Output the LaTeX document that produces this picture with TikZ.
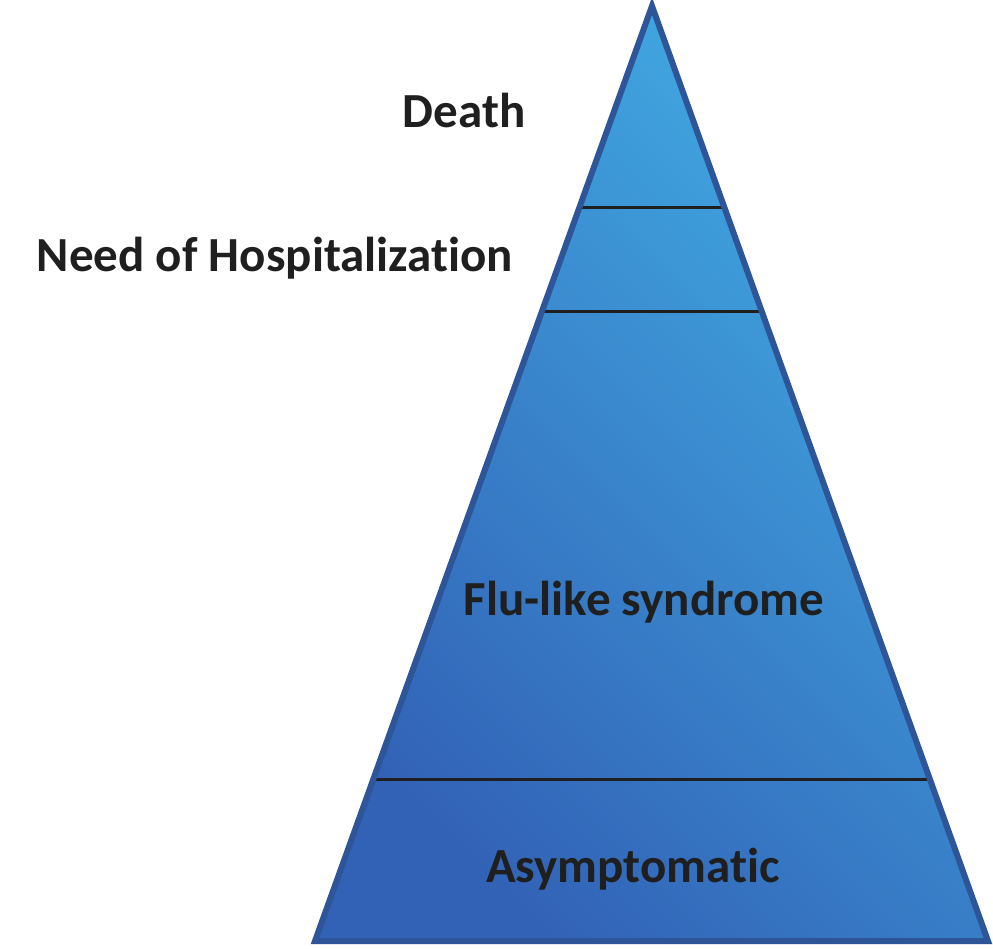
\documentclass[tikz,border=0pt]{standalone}
\usepackage{fontspec}
\setmainfont{Carlito}[Ligatures=NoCommon]
\usepackage{tikz}
\usetikzlibrary{calc}
\definecolor{pyrLight}{HTML}{41ABE3}
\definecolor{pyrDark}{HTML}{3262B6}
\definecolor{pyrEdge}{HTML}{2E5597}
\definecolor{ink}{HTML}{1F1F1F}

\begin{document}
\begin{tikzpicture}[x=1pt,y=-1pt,
  level/.style={font=\fontsize{49}{58}\selectfont\bfseries,text=ink,anchor=base,inner sep=0pt},
  divider/.style={draw=ink,line width=3pt}]
\useasboundingbox (0,0) rectangle (993,949);
% pyramid corners
\coordinate (apex) at (652,6);
\coordinate (bl) at (315,941);
\coordinate (br) at (988,941);
% fill
\shade[top color=pyrLight,bottom color=pyrDark,shading angle=-45] (apex) -- (bl) -- (br) -- cycle;
% level boundaries
\coordinate (d1l) at ($(apex)!0.216!(bl)$);
\coordinate (d1r) at ($(apex)!0.216!(br)$);
\coordinate (d2l) at ($(apex)!0.327!(bl)$);
\coordinate (d2r) at ($(apex)!0.327!(br)$);
\coordinate (d3l) at ($(apex)!0.827!(bl)$);
\coordinate (d3r) at ($(apex)!0.827!(br)$);
\draw[divider] (d1l) -- (d1r);
\draw[divider] (d2l) -- (d2r);
\draw[divider] (d3l) -- (d3r);
\draw[pyrEdge,line width=6pt,line join=miter] (apex) -- (bl) -- (br) -- cycle;
% labels
\node[level] (death) at (464,128) {Death};
\node[level] (hosp) at (275,272) {Need of Hospitalization};
\node[level] (flu) at (644,615) {Flu-like syndrome};
\node[level] (asym) at (633,882) {Asymptomatic};
\end{tikzpicture}
\end{document}
